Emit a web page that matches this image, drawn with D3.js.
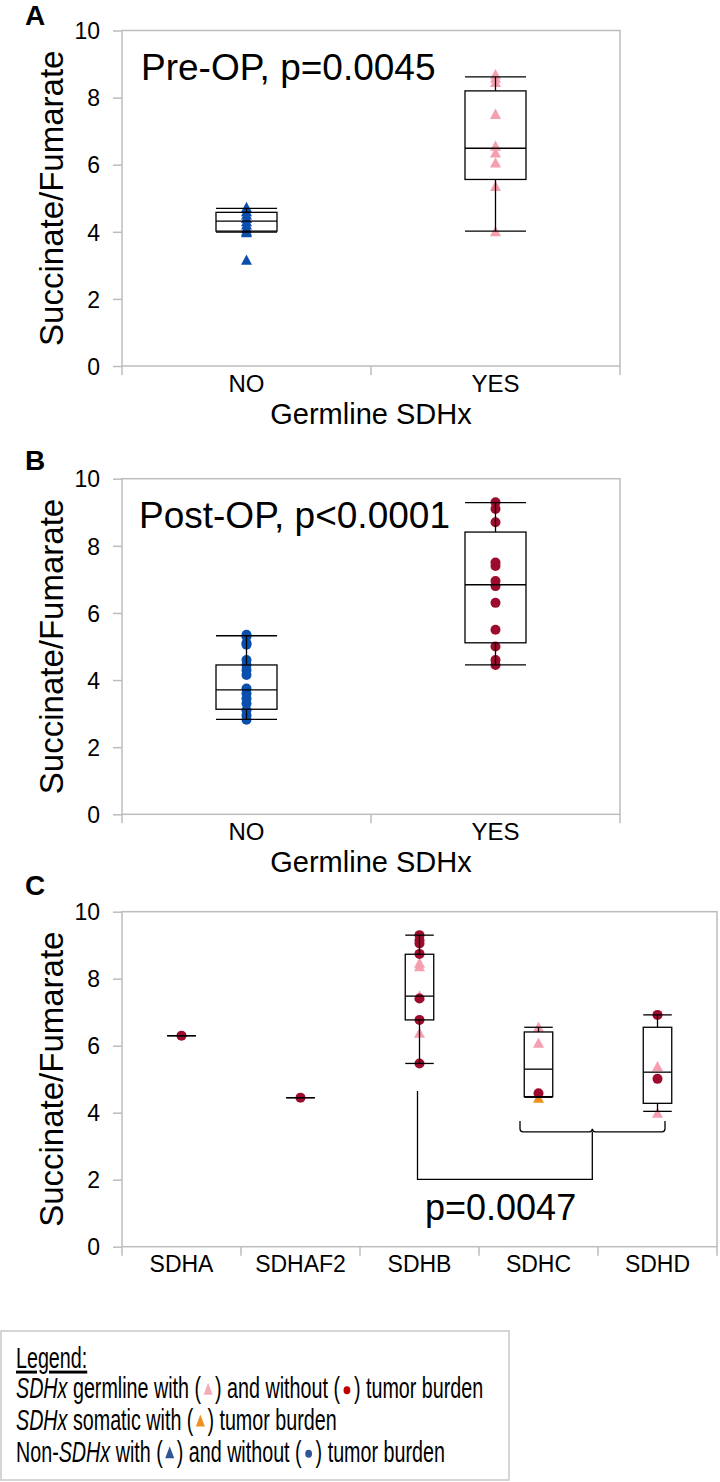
<!DOCTYPE html>
<html><head><meta charset="utf-8">
<script src="https://cdn.jsdelivr.net/npm/d3@7"></script>
<style>body{margin:0;background:#fff}svg{display:block}text{font-family:"Liberation Sans",Arial,sans-serif;fill:#000}</style>
</head><body><svg id="c" width="720" height="1482"></svg>
<script>
// ---------------- data ----------------
const yTicks = [0, 2, 4, 6, 8, 10];
const germlineCats = ["NO", "YES"];
const geneCats = ["SDHA", "SDHAF2", "SDHB", "SDHC", "SDHD"];

// Panel A (pre-OP): triangles
const preNO = [4.72, 4.6, 4.5, 4.4, 4.3, 4.2, 4.1, 4.02, 3.97, 3.15];
const preYES = [8.68, 8.58, 8.45, 7.5, 6.55, 6.35, 6.05, 5.35, 4.0];
const preBoxNO = [3.99, 4.02, 4.32, 4.58, 4.70];   // low, q1, median, q3, high
const preBoxYES = [4.02, 5.56, 6.49, 8.20, 8.62];

// Panel B (post-OP): dots
const postNO = [5.35, 5.3, 5.1, 5.05, 4.6, 4.45, 4.3, 4.15, 3.75, 3.6, 3.45, 3.3, 3.1, 2.95, 2.82];
const postYES = [9.3, 9.1, 8.7, 7.5, 7.4, 6.95, 6.8, 6.3, 5.5, 5.0, 4.6, 4.45];
const postBoxNO = [2.83, 3.13, 3.71, 4.45, 5.32];
const postBoxYES = [4.45, 5.11, 6.84, 8.41, 9.29];

// Panel C (by gene)
const geneDots = [[6.3], [4.45], [9.3, 9.15, 9.05, 8.74, 7.41, 6.77, 5.47], [4.58], [6.92, 5.01]];
const geneTriGerm = [[], [], [8.46, 8.36, 7.48, 6.37], [6.55, 6.07], [5.37, 3.98]];
const geneTriSom = [[], [], [], [4.43], []];
const geneBoxes = [
  [6.3, 6.3, 6.3, 6.3, 6.3],
  [4.45, 4.45, 4.45, 4.45, 4.45],
  [5.47, 6.77, 7.48, 8.73, 9.30],
  [4.46, 4.48, 5.30, 6.41, 6.55],
  [4.04, 4.28, 5.21, 6.55, 6.92]
];

// ---------------- styles ----------------
const PINK = "#f59fb1", DARKRED = "#9e0c2d", BLUE = "#0b4fae", ORANGE = "#f0901c";
const GRID = "#bdbdbd";

const svg = d3.select("#c");
const triPath = "M-5.5,4.5L5.5,4.5L0,-5.8Z";

function panel(opt) {
  const y = d3.scaleLinear().domain([0, 10]).range([opt.bottom, opt.top]);
  const x = d3.scaleBand().domain(opt.cats).range([opt.left, opt.right]);
  const g = svg.append("g");
  g.append("rect").attr("x", opt.left).attr("y", opt.top)
    .attr("width", opt.right - opt.left).attr("height", opt.bottom - opt.top)
    .attr("fill", "none").attr("stroke", GRID).attr("stroke-width", 1.5);
  const ya = g.append("g").attr("transform", `translate(${opt.left},0)`)
    .call(d3.axisLeft(y).tickValues(yTicks).tickSize(9).tickFormat(d3.format("d")));
  ya.select(".domain").remove();
  ya.selectAll("line").attr("stroke", GRID).attr("stroke-width", 1.5);
  ya.selectAll("text").attr("font-size", 23).attr("x", -22).attr("dy", "0.36em")
    .attr("font-family", "Liberation Sans, Arial, sans-serif");
  const bounds = opt.cats.map(c => x(c)).concat([opt.right]);
  g.selectAll(".xt").data(bounds).enter().append("line")
    .attr("x1", d => d).attr("x2", d => d).attr("y1", opt.bottom).attr("y2", opt.bottom + 9)
    .attr("stroke", GRID).attr("stroke-width", 1.5);
  g.selectAll(".xl").data(opt.cats).enter().append("text")
    .attr("x", d => x(d) + x.bandwidth() / 2).attr("y", opt.bottom + 25.5)
    .attr("text-anchor", "middle").attr("font-size", opt.xFont || 24).text(d => d);
  if (opt.xTitle) {
    g.append("text").attr("x", (opt.left + opt.right) / 2).attr("y", opt.bottom + 57.5)
      .attr("text-anchor", "middle").attr("font-size", 29).text(opt.xTitle);
  }
  g.append("text").attr("transform", `translate(62.5,${(opt.top + opt.bottom) / 2}) rotate(-90)`)
    .attr("text-anchor", "middle").attr("font-size", 33).text("Succinate/Fumarate");
  g.append("text").attr("x", 25).attr("y", opt.letterY).attr("font-size", 28)
    .attr("font-weight", "bold").text(opt.letter);
  return {g, x, y};
}

function points(p, cat, vals, kind, color) {
  const cx = p.x(cat) + p.x.bandwidth() / 2;
  if (kind === "tri") {
    p.g.selectAll(null).data(vals).enter().append("path").attr("d", triPath)
      .attr("transform", d => `translate(${cx},${p.y(d)})`).attr("fill", color);
  } else {
    p.g.selectAll(null).data(vals).enter().append("circle")
      .attr("cx", cx).attr("cy", d => p.y(d)).attr("r", 5).attr("fill", color);
  }
}

function box(p, cat, s, w) {
  const cx = p.x(cat) + p.x.bandwidth() / 2;
  const gb = p.g.append("g").attr("stroke", "#000").attr("stroke-width", 1.3).attr("fill", "none");
  gb.append("line").attr("x1", cx).attr("x2", cx).attr("y1", p.y(s[0])).attr("y2", p.y(s[1]));
  gb.append("line").attr("x1", cx).attr("x2", cx).attr("y1", p.y(s[3])).attr("y2", p.y(s[4]));
  gb.append("line").attr("x1", cx - w / 2).attr("x2", cx + w / 2).attr("y1", p.y(s[0])).attr("y2", p.y(s[0]));
  gb.append("line").attr("x1", cx - w / 2).attr("x2", cx + w / 2).attr("y1", p.y(s[4])).attr("y2", p.y(s[4]));
  gb.append("rect").attr("x", cx - w / 2).attr("width", w)
    .attr("y", p.y(s[3])).attr("height", Math.max(0, p.y(s[1]) - p.y(s[3])));
  gb.append("line").attr("x1", cx - w / 2).attr("x2", cx + w / 2).attr("y1", p.y(s[2])).attr("y2", p.y(s[2]));
}

// ---- Panel A ----
const A = panel({left: 122, right: 620, top: 30.5, bottom: 366, cats: germlineCats,
  xTitle: "Germline SDHx", letter: "A", letterY: 25});
points(A, "NO", preNO, "tri", BLUE);
points(A, "YES", preYES, "tri", PINK);
box(A, "NO", preBoxNO, 61);
box(A, "YES", preBoxYES, 61);
A.g.append("text").attr("x", 141).attr("y", 80).attr("font-size", 37).text("Pre-OP, p=0.0045");

// ---- Panel B ----
const B = panel({left: 122, right: 620, top: 478.7, bottom: 814.3, cats: germlineCats,
  xTitle: "Germline SDHx", letter: "B", letterY: 470});
points(B, "NO", postNO, "dot", BLUE);
points(B, "YES", postYES, "dot", DARKRED);
box(B, "NO", postBoxNO, 61);
box(B, "YES", postBoxYES, 61);
B.g.append("text").attr("x", 139).attr("y", 528).attr("font-size", 37).text("Post-OP, p<0.0001");

// ---- Panel C ----
const C = panel({left: 122, right: 717, top: 911.7, bottom: 1246.7, cats: geneCats,
  letter: "C", letterY: 895, xFont: 23});
geneCats.forEach((g, i) => {
  points(C, g, geneTriSom[i], "tri", ORANGE);
  points(C, g, geneTriGerm[i], "tri", PINK);
  points(C, g, geneDots[i], "dot", DARKRED);
});
geneCats.forEach((g, i) => box(C, g, geneBoxes[i], 28.5));

(function () {
  const cB = C.x("SDHB") + C.x.bandwidth() / 2;
  const cC = C.x("SDHC") + C.x.bandwidth() / 2;
  const cD = C.x("SDHD") + C.x.bandwidth() / 2;
  const xl = cB - 2, bl = cC - 18.5, br = cD + 7.5, mid = 592.3;
  const yTop = C.y(4.65), braceTop = C.y(3.75), braceY = C.y(3.43), low = C.y(2.01);
  const gs = C.g.append("g").attr("fill", "none").attr("stroke", "#000").attr("stroke-width", 1.3);
  gs.append("path").attr("d",
    `M${bl},${braceTop}L${bl},${braceY - 3}Q${bl},${braceY} ${bl + 3},${braceY}` +
    `L${mid - 3},${braceY}Q${mid},${braceY} ${mid},${braceY - 3}Q${mid},${braceY} ${mid + 3},${braceY}` +
    `L${br - 3},${braceY}Q${br},${braceY} ${br},${braceY - 3}L${br},${braceTop}`);
  gs.append("path").attr("d", `M${xl},${yTop}L${xl},${low}L${mid},${low}L${mid},${braceY}`);
  C.g.append("text").attr("x", 425).attr("y", 1220).attr("font-size", 36).text("p=0.0047");
})();

// ---------------- legend ----------------
const LEG_PINK = "#f7aab8", LEG_RED = "#c00000", LEG_ORANGE = "#f0901e", LEG_BLUE = "#2f5597";
svg.append("rect").attr("x", 1).attr("y", 1331).attr("width", 508).attr("height", 149)
  .attr("fill", "none").attr("stroke", "#c8c8c8").attr("stroke-width", 1.5);
const sx = 0.68;
const lg = svg.append("g");
const lgt = lg.append("g").attr("transform", `scale(${sx},1)`);
const legendLines = [
  {y: 1368.3, parts: [{t: "Legend:", u: true}]},
  {y: 1398.3, parts: [{t: "SDHx", i: true}, {t: " germline with ("}, {s: "tri", c: LEG_PINK}, {t: ") and without ("}, {s: "dot", c: LEG_RED}, {t: ") tumor burden"}]},
  {y: 1430, parts: [{t: "SDHx", i: true}, {t: " somatic with ("}, {s: "tri", c: LEG_ORANGE}, {t: ") tumor burden"}]},
  {y: 1461.7, parts: [{t: "Non-"}, {t: "SDHx", i: true}, {t: " with ("}, {s: "tri", c: LEG_BLUE}, {t: ") and without ("}, {s: "dot", c: LEG_BLUE}, {t: ") tumor burden"}]}
];
legendLines.forEach(L => {
  let cur = 16;
  L.parts.forEach(p => {
    if (p.t !== undefined) {
      const t = lgt.append("text").attr("x", cur / sx).attr("y", L.y).attr("font-size", 29)
        .attr("xml:space", "preserve").style("white-space", "pre")
        .attr("font-style", p.i ? "italic" : null)
        .attr("text-decoration", p.u ? "underline" : null).text(p.t);
      cur += t.node().getComputedTextLength() * sx;
    } else {
      const cx = cur + 7, cy = L.y - 9;
      if (p.s === "tri") lg.append("path").attr("d", "M-4.5,5.5L4.5,5.5L0,-6.5Z")
        .attr("transform", `translate(${cx},${cy})`).attr("fill", p.c);
      else lg.append("ellipse").attr("cx", cx).attr("cy", cy + 1).attr("rx", 3.4).attr("ry", 4).attr("fill", p.c);
      cur += 14;
    }
  });
});
</script></body></html>
